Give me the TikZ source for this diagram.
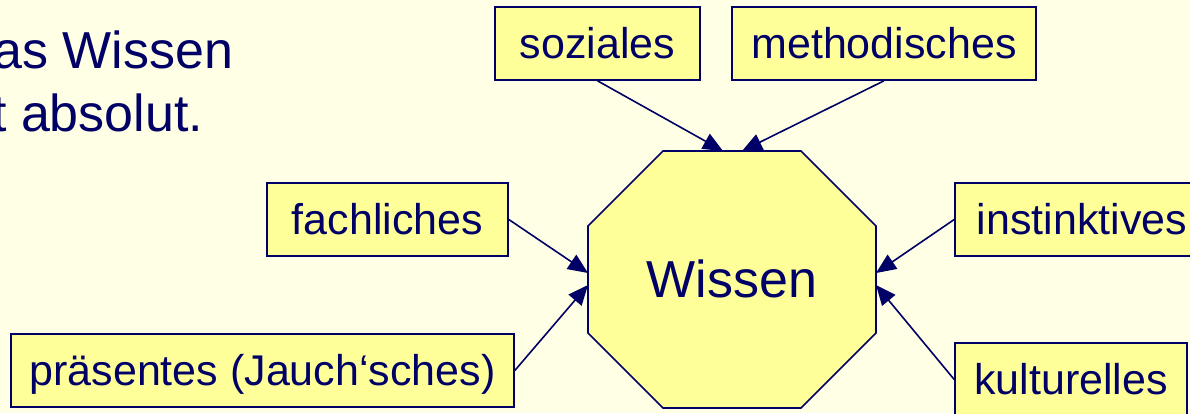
\documentclass[tikz,border=0pt]{standalone}
\usepackage{fontspec}
\setmainfont{Liberation Sans}
\usetikzlibrary{arrows.meta,calc}
\definecolor{pagebg}{HTML}{FFFFE5}
\definecolor{boxfill}{HTML}{FFFF99}
\definecolor{navy}{HTML}{000066}

\begin{document}
\begin{tikzpicture}[x=1pt,y=-1pt,
  label box/.style={draw=navy, fill=boxfill, line width=1.6pt, inner sep=0pt,
    text=navy, font=\fontsize{43}{50}\selectfont,
    text height=39pt, text depth=9pt, minimum height=73pt},
  feed/.style={draw=navy, line width=1.6pt, -{Triangle[length=20pt,width=17pt]}},
  big text/.style={text=navy, font=\fontsize{52}{60}\selectfont, inner sep=0pt},
]
\useasboundingbox (0,0) rectangle (1190,413);
\clip (0,0) rectangle (1190,413);
\fill[pagebg] (0,0) rectangle (1190,413);

% heading lines on the left
\node[big text, anchor=base west] (line1) at (-7,68) {as Wissen};
\node[big text, anchor=base west] (line2) at (-8,131) {t absolut.};

% central octagon
\filldraw[fill=boxfill, draw=navy, line width=1.6pt, line join=miter]
  (663,151) -- (801,151) -- (876,226) -- (876,333) -- (801,408)
  -- (663,408) -- (588,333) -- (588,226) -- cycle;
\node[big text, text height=47pt, text depth=11pt] (wissen) at (732,279.5) {Wissen};

% arrow targets on the octagon border
\coordinate (tip-soz)  at (723,151);
\coordinate (tip-meth) at (742,151);
\coordinate (tip-fach) at (588,273);
\coordinate (tip-pra)  at (588,285);
\coordinate (tip-inst) at (876,273);
\coordinate (tip-kult) at (876,285);

% kinds of knowledge
\node[label box, minimum width=205pt] (soz)  at (597.5,43.5) {soziales};
\node[label box, minimum width=304pt] (meth) at (884,43.5)   {methodisches};
\node[label box, minimum width=241pt] (fach) at (387.5,219.5) {fachliches};
\node[label box, minimum width=503pt] (pra)  at (262.5,370.5) {präsentes (Jauch‘sches)};
\node[label box, minimum width=254pt] (inst) at (1082,219.5) {instinktives};
\node[label box, minimum width=232pt] (kult) at (1071,379.5) {kulturelles};

% connectors
\draw[feed] (soz.south)  -- (tip-soz);
\draw[feed] (meth.south) -- (tip-meth);
\draw[feed] (fach.east)  -- (tip-fach);
\draw[feed] (pra.east)   -- (tip-pra);
\draw[feed] (inst.west)  -- (tip-inst);
\draw[feed] (kult.west)  -- (tip-kult);
\end{tikzpicture}
\end{document}
